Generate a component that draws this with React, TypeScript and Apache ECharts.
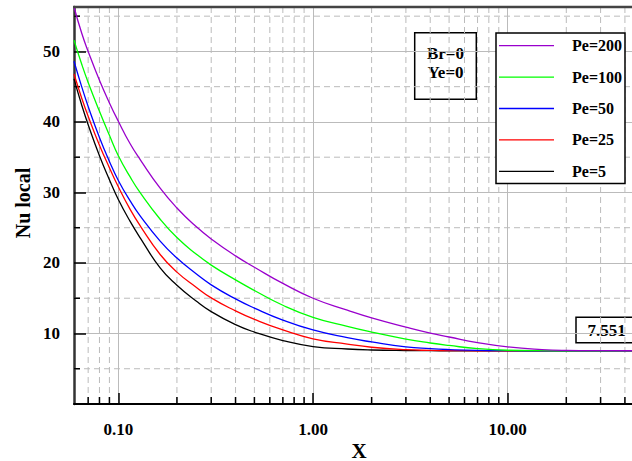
import React, { useEffect, useRef } from "react";
import * as echarts from "echarts";

// ---- data ----
const X_SAMPLES = [0.0592, 0.065, 0.07, 0.08, 0.09, 0.1, 0.115, 0.13, 0.164, 0.2, 0.25, 0.3, 0.4, 0.5, 0.7, 1, 1.5, 2, 3, 4, 5, 7, 10, 15, 20, 30, 43.5];

const PE200 = [56.3, 52.5, 50.0, 45.9, 42.7, 40.1, 36.9, 34.6, 30.6, 27.8, 25.2, 23.4, 21.0, 19.4, 17.1, 15.0, 13.3, 12.2, 10.9, 10.05, 9.5, 8.7, 8.1, 7.72, 7.6, 7.56, 7.551];
const PE100 = [51.6, 48.1, 45.6, 41.5, 38.1, 35.2, 32.2, 29.9, 26.2, 23.6, 21.3, 19.7, 17.6, 16.1, 14.0, 12.3, 11.0, 10.2, 9.2, 8.65, 8.3, 7.85, 7.62, 7.56, 7.551, 7.551, 7.551];
const PE50 = [48.6, 44.9, 42.2, 37.8, 34.4, 31.7, 28.8, 26.6, 23.1, 20.7, 18.5, 16.9, 14.9, 13.6, 11.9, 10.5, 9.4, 8.8, 8.1, 7.85, 7.72, 7.6, 7.56, 7.551, 7.551, 7.551, 7.551];
const PE25 = [46.8, 43.3, 40.8, 36.7, 33.5, 30.8, 27.6, 25.2, 21.2, 18.7, 16.6, 15.05, 13.2, 12.0, 10.5, 9.25, 8.5, 8.05, 7.7, 7.6, 7.57, 7.555, 7.551, 7.551, 7.551, 7.551, 7.551];
const PE5 = [46.1, 42.3, 39.6, 35.2, 31.8, 29.0, 25.9, 23.5, 19.3, 16.85, 14.65, 13.1, 11.25, 10.2, 9.0, 8.15, 7.8, 7.66, 7.58, 7.56, 7.553, 7.551, 7.551, 7.551, 7.551, 7.551, 7.551];

const SERIES_NAMES = ["Pe=200", "Pe=100", "Pe=50", "Pe=25", "Pe=5"];
const SERIES_COLORS = ["#9900cc", "#00ff00", "#0000ff", "#ff0000", "#000000"];
const SERIES_VALUES = [PE200, PE100, PE50, PE25, PE5];

const X_MIN = 0.0592;
const X_MAX = 43.5;
const Y_MIN = 0;
const Y_MAX = 56.3;
const X_MINOR = [0.07, 0.08, 0.09, 0.2, 0.3, 0.4, 0.5, 0.6, 0.7, 0.8, 0.9, 2, 3, 4, 5, 6, 7, 8, 9, 20, 30, 40];
const Y_MINOR = [5, 15, 25, 35, 45, 55];
const ASYMPTOTE_LABEL = "7.551";
const PARAM_LABEL = "Br=0\nYe=0";
const X_TITLE = "X";
const Y_TITLE = "Nu local";

const FONT = "'Liberation Serif', 'Times New Roman', serif";
const LEGEND_LINE_ICON =
  "path://M0,0h0.01v0.01h-0.01z M0,6.35h55v1.3h-55z M54.99,13.99h0.01v0.01h-0.01z";

export default function App() {
  const ref = useRef<HTMLDivElement>(null);

  useEffect(() => {
    if (!ref.current) return;
    const chart = echarts.init(ref.current, null, { renderer: "svg" });

    const gridData: any[] = [];
    X_MINOR.forEach((x) => gridData.push([x, 10, 0]));
    Y_MINOR.forEach((y) => gridData.push([1, y, 1]));

    const lineSeries = SERIES_NAMES.map((name, i) => ({
      name,
      type: "line",
      data: X_SAMPLES.map((x, j) => [x, SERIES_VALUES[i][j]]),
      symbol: "none",
      smooth: 0.5,
      clip: true,
      z: 3,
      lineStyle: { color: SERIES_COLORS[i], width: 1.3 },
      itemStyle: { color: SERIES_COLORS[i] },
    }));
    // draw order: black at bottom, purple on top
    const ordered = [lineSeries[4], lineSeries[3], lineSeries[2], lineSeries[1], lineSeries[0]];

    const option: any = {
      animation: false,
      backgroundColor: "#ffffff",
      grid: { left: 74, right: 0, top: 7, bottom: 57, containLabel: false },
      xAxis: {
        type: "log",
        logBase: 10,
        min: X_MIN,
        max: X_MAX,
        axisLine: { show: true, onZero: false, lineStyle: { color: "#000", width: 2 } },
        axisTick: { show: true, inside: true, length: 11, lineStyle: { color: "#000", width: 1.5 } },
        splitLine: { show: true, lineStyle: { color: "#bbbbbb", width: 1, type: "solid" } },
        axisLabel: {
          margin: 17,
          fontFamily: FONT,
          fontWeight: "bold",
          fontSize: 17,
          color: "#000",
          showMinLabel: false,
          showMaxLabel: false,
          formatter: (v: number) => {
            const l = Math.log10(v);
            if (Math.abs(l - Math.round(l)) < 1e-6) return Math.pow(10, Math.round(l)).toFixed(2);
            return "";
          },
        },
      },
      yAxis: {
        type: "value",
        min: Y_MIN,
        max: Y_MAX,
        interval: 10,
        axisLine: { show: true, onZero: false, lineStyle: { color: "#333", width: 2.5 } },
        axisTick: { show: true, inside: true, length: 12, lineStyle: { color: "#000", width: 1.5 } },
        splitLine: { show: true, lineStyle: { color: "#bbbbbb", width: 1, type: "solid" } },
        axisLabel: {
          margin: 14,
          fontFamily: FONT,
          fontWeight: "bold",
          fontSize: 17,
          color: "#000",
          formatter: (v: number) => (v > 0 && Math.abs(v % 10) < 1e-9 ? String(v) : ""),
        },
      },
      legend: {
        data: SERIES_NAMES,
        orient: "vertical",
        left: 496,
        top: 33,
        icon: LEGEND_LINE_ICON,
        itemWidth: 55,
        itemHeight: 14,
        itemGap: 15.4,
        padding: [4.7, 3, 4.3, 3],
        backgroundColor: "#ffffff",
        borderColor: "#000",
        borderWidth: 1.5,
        selectedMode: false,
        textStyle: { fontFamily: FONT, fontWeight: "bold", fontSize: 16, color: "#000", padding: [0, 0, 0, 13] },
      },
      graphic: [
        {
          type: "line",
          shape: { x1: 73, y1: 7, x2: 632, y2: 7 },
          style: { stroke: "#444", lineWidth: 2.5 },
          z: 10,
        },
        {
          type: "text",
          x: 23,
          y: 203,
          rotation: Math.PI / 2,
          style: { text: Y_TITLE, fontFamily: FONT, fontWeight: "bold", fontSize: 20, fill: "#000", align: "center", verticalAlign: "middle" },
        },
        {
          type: "text",
          x: 359,
          y: 450.5,
          style: { text: X_TITLE, fontFamily: FONT, fontWeight: "bold", fontSize: 21, fill: "#000", align: "center", verticalAlign: "middle" },
        },
        {
          type: "group",
          z: 20,
          children: [
            { type: "rect", shape: { x: 414.7, y: 32.7, width: 61.6, height: 66.6 }, style: { fill: "#fff", stroke: "#000", lineWidth: 1.5 } },
            {
              type: "text",
              x: 445.5,
              y: 63,
              style: { text: PARAM_LABEL, fontFamily: FONT, fontWeight: "bold", fontSize: 17, lineHeight: 19.4, fill: "#000", align: "center", verticalAlign: "middle" },
            },
          ],
        },
        {
          type: "group",
          z: 20,
          children: [
            { type: "rect", shape: { x: 576, y: 317.3, width: 60, height: 25.4 }, style: { fill: "#fff", stroke: "#000", lineWidth: 1.5 } },
            {
              type: "text",
              x: 606.7,
              y: 330.5,
              style: { text: ASYMPTOTE_LABEL, fontFamily: FONT, fontWeight: "bold", fontSize: 17, fill: "#000", align: "center", verticalAlign: "middle" },
            },
          ],
        },
      ],
      series: [
        {
          type: "custom",
          name: "minor-grid",
          silent: true,
          z: 1,
          data: gridData,
          renderItem: (params: any, api: any) => {
            const cs = params.coordSys;
            const kind = api.value(2);
            if (kind === 0) {
              const x = api.coord([api.value(0), 10])[0];
              return {
                type: "group",
                children: [
                  { type: "line", shape: { x1: x, y1: cs.y, x2: x, y2: cs.y + cs.height }, style: { stroke: "#bbbbbb", lineWidth: 1, lineDash: [6, 4] } },
                  { type: "line", shape: { x1: x, y1: cs.y + cs.height, x2: x, y2: cs.y + cs.height - 7 }, style: { stroke: "#000", lineWidth: 1.5 } },
                ],
              };
            }
            const y = api.coord([1, api.value(1)])[1];
            return {
              type: "group",
              children: [
                { type: "line", shape: { x1: cs.x, y1: y, x2: cs.x + cs.width, y2: y }, style: { stroke: "#bbbbbb", lineWidth: 1, lineDash: [6, 4] } },
                { type: "line", shape: { x1: cs.x, y1: y, x2: cs.x + 6, y2: y }, style: { stroke: "#000", lineWidth: 1.5 } },
              ],
            };
          },
        },
        ...ordered,
      ],
    };

    chart.setOption(option);
    return () => chart.dispose();
  }, []);

  return <div ref={ref} style={{ position: "fixed", left: 0, top: 0, width: 632, height: 461 }} />;
}
